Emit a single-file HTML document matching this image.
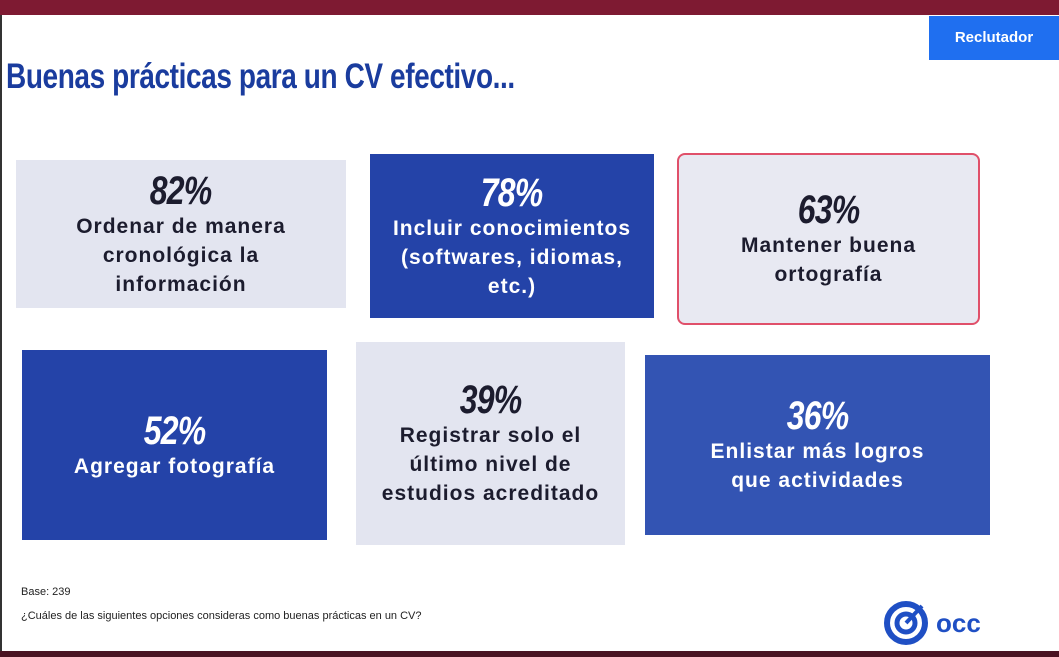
<!DOCTYPE html>
<html><head><meta charset="utf-8"><style>
*{margin:0;padding:0;box-sizing:border-box}
body{width:1059px;height:657px;background:#fff;position:relative;overflow:hidden;font-family:"Liberation Sans",sans-serif}
.top{position:absolute;left:0;top:0;width:1059px;height:15px;background:#7e1a32}
.bot{position:absolute;left:0;top:651px;width:1059px;height:6px;background:#4a1322}
.lb{position:absolute;left:0;top:15px;width:2px;height:636px;background:#333}
.rec{position:absolute;left:929px;top:16px;width:130px;height:44px;background:#1f6ff0;color:#fff;font-weight:bold;font-size:15px;line-height:44px;text-align:center}
.title{position:absolute;left:6px;top:57px;font-size:35px;font-weight:bold;color:#1a3c9e;transform:scaleX(.8);transform-origin:left;letter-spacing:-0.5px;white-space:nowrap}
.b{position:absolute;display:flex;flex-direction:column;justify-content:center;align-items:center;text-align:center;font-weight:bold;font-size:21px;line-height:29px;letter-spacing:1px}
.b .p{font-size:40px;line-height:42px;font-style:italic;transform:scaleX(.8);letter-spacing:-1px}
.l{background:#e3e5f0;color:#1c1c2e}
.d{background:#2443a8;color:#fff}
.m{background:#3354b3;color:#fff}
.note{position:absolute;left:21px;font-size:11px;color:#222}
</style></head><body>
<div class="top"></div><div class="bot"></div><div class="lb"></div>
<div class="rec">Reclutador</div>
<div class="title">Buenas prácticas para un CV efectivo...</div>
<div class="b l" style="left:16px;top:160px;width:330px;height:148px"><div class="p">82%</div>Ordenar de manera<br>cronológica la<br>información</div>
<div class="b d" style="left:370px;top:154px;width:284px;height:164px"><div class="p">78%</div>Incluir conocimientos<br>(softwares, idiomas,<br>etc.)</div>
<div class="b l" style="left:677px;top:153px;width:303px;height:172px;border:2px solid #e0506a;border-radius:8px;background:#e8e9f2"><div class="p">63%</div>Mantener buena<br>ortografía</div>
<div class="b d" style="left:22px;top:350px;width:305px;height:190px"><div class="p">52%</div>Agregar fotografía</div>
<div class="b l" style="left:356px;top:342px;width:269px;height:203px"><div class="p">39%</div>Registrar solo el<br>último nivel de<br>estudios acreditado</div>
<div class="b m" style="left:645px;top:355px;width:345px;height:180px"><div class="p">36%</div>Enlistar más logros<br>que actividades</div>
<div class="note" style="top:586px">Base: 239</div>
<div class="note" style="top:610px">¿Cuáles de las siguientes opciones consideras como buenas prácticas en un CV?</div>
<svg style="position:absolute;left:884px;top:600px" width="120" height="46">
<circle cx="22" cy="23" r="19" fill="none" stroke="#1f4fc4" stroke-width="6"/>
<circle cx="22" cy="23" r="9" fill="none" stroke="#1f4fc4" stroke-width="5"/>
<path d="M22 23 L38 6" stroke="#1f4fc4" stroke-width="4"/>
<text x="52" y="32" font-family="Liberation Sans" font-weight="bold" font-size="26" fill="#1f4fc4">occ</text>
</svg>
</body></html>
